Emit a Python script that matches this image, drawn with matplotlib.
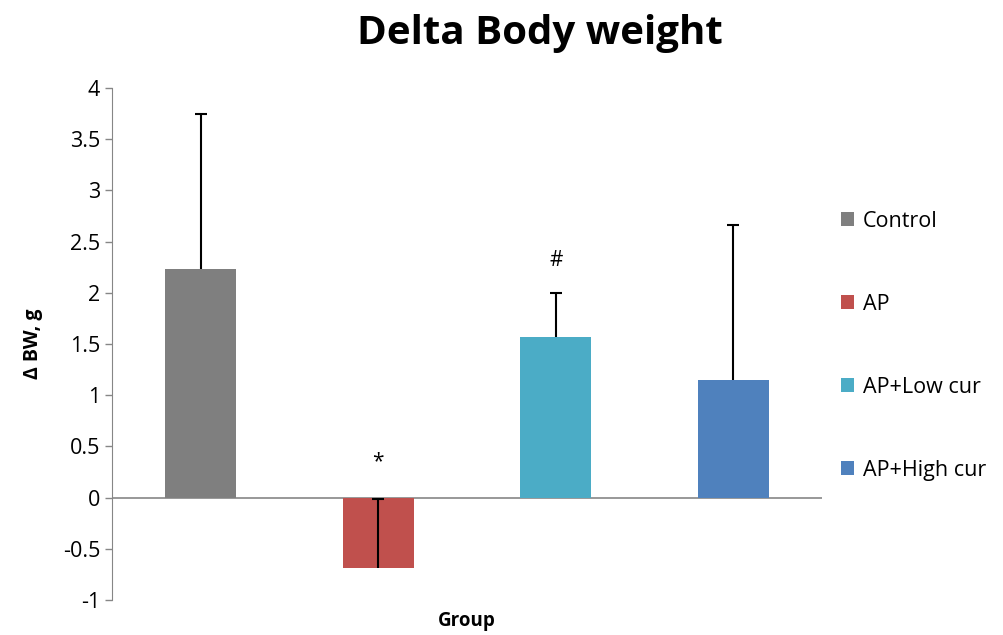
import matplotlib.pyplot as plt
import numpy as np

groups = ["Control", "AP", "AP+Low cur", "AP+High cur"]
means = [2.23, -0.69, 1.57, 1.15]
err_up = [1.52, 0.68, 0.43, 1.51]
colors = ["#7F7F7F", "#C0504D", "#4BACC6", "#4F81BD"]
marks = ["", "*", "#", ""]
mark_y = [None, 0.35, 2.32, None]

plt.rcParams['font.family'] = ['Open Sans', 'DejaVu Sans']

fig = plt.figure(figsize=(10.04, 6.35), dpi=100)
ax = fig.add_axes([0.1116, 0.055, 0.707, 0.8064])

x = np.arange(len(groups))
for i in range(len(groups)):
    ax.bar(x[i], means[i], 0.4, color=colors[i], label=groups[i], zorder=2)
# one-sided error bars, cap only at the far end
tops = np.array(means) + np.array(err_up)
ax.vlines(x, means, tops, color='black', linewidth=1.5, zorder=3)
ax.plot(x, tops, linestyle='none', marker='_', markersize=9,
        markeredgewidth=1.5, color='black', zorder=3)
for i in range(len(groups)):
    if marks[i]:
        ax.text(x[i], mark_y[i], marks[i], ha='center', va='center', fontsize=15)

ax.axhline(0, color='#868686', linewidth=1.2, zorder=1)
ax.set_xlim(-0.5, 3.5)
ax.set_ylim(-1, 4)
ax.set_yticks(np.arange(-1, 4.01, 0.5))
ax.set_yticklabels(['-1', '-0.5', '0', '0.5', '1', '1.5', '2', '2.5', '3', '3.5', '4'])
ax.set_xticks([])
for s in ['top', 'right', 'bottom']:
    ax.spines[s].set_visible(False)
ax.spines['left'].set_color('#868686')
ax.tick_params(axis='y', colors='#868686', labelcolor='black', labelsize=15.5, length=5, width=1)

ax.set_ylabel('Δ BW, g', fontsize=14, fontweight='bold', labelpad=14)
ax.set_xlabel('Group', fontsize=13.5, fontweight='bold', labelpad=8)
fig.suptitle('Delta Body weight', fontsize=29, fontweight='bold', x=0.538, y=0.978)

ax.legend(loc='center left', bbox_to_anchor=(1.0, 0.497), frameon=False, fontsize=15.5,
          handlelength=0.6, handleheight=0.6, handletextpad=0.4, labelspacing=2.88)

fig.savefig('out.png', dpi=100)
